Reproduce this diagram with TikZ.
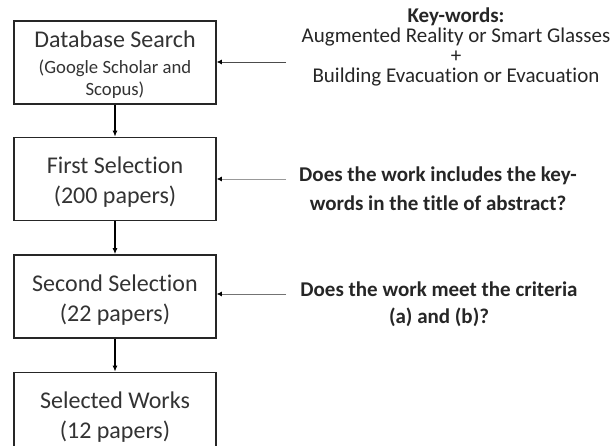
\documentclass[tikz,border=0pt]{standalone}
\usepackage{fontspec}
\setmainfont[Ligatures=NoCommon,RawFeature={-calt;-liga;-dlig}]{Carlito}
\usetikzlibrary{arrows.meta}
\newcommand\kwfont{\fontsize{21}{20}\selectfont\lineskiplimit=-30pt\relax}
\begin{document}
\begin{tikzpicture}[x=1pt,y=-1pt,
  box/.style={draw=black!85,line width=1.6pt,minimum width=202pt,minimum height=83pt,inner sep=0pt,align=center,text=black!80,font=\fontsize{24}{30}\selectfont},
  flow/.style={line width=1.2pt,-{Latex[length=6pt,width=5pt]}},
  side/.style={line width=0.8pt,draw=gray,-{Latex[length=5pt,width=5pt,color=black]}},
  note/.style={align=center,inner sep=0pt,text=black!85}]
\useasboundingbox (0,0) rectangle (615,446);
\clip (0,0) rectangle (615,446);
\fill[white] (0,0) rectangle (615,446);
\node[box,font=\fontsize{18.7}{22}\selectfont] (b1) at (115,62.5) {\rule{0pt}{21pt}\fontsize{24}{26}\selectfont Database Search\\[4pt](Google Scholar and\\Scopus)};
\node[box] (b2) at (115,179) {\rule{0pt}{23pt}First Selection\\(200 papers)};
\node[box] (b3) at (115,296.5) {\rule{0pt}{23pt}Second Selection\\(22 papers)};
\node[box] (b4) at (115,414) {\rule{0pt}{22pt}Selected Works\\(12 papers)};
\draw[flow] (b1) -- (b2);
\draw[flow] (b2) -- (b3);
\draw[flow] (b3) -- (b4);
\node[note,font=\kwfont] (k) at (456,46.5) {\textbf{Key-words:}\\Augmented Reality or Smart Glasses\\+\\Building Evacuation or Evacuation};
\node[note,font=\fontsize{21}{29}\selectfont\bfseries] (q1) at (438,188.5) {Does the work includes the key-\\words in the title of abstract?};
\node[note,font=\fontsize{21}{27}\selectfont\bfseries] (q2) at (439,304) {Does the work meet the criteria\\(a) and (b)?};
\coordinate (s1) at (286,62);
\coordinate (s2) at (286,179);
\coordinate (s3) at (286,294);
\draw[side,draw=black!70] (s1) -- (s1 -| b1.east);
\draw[side,draw=black!40] (s2) -- (s2 -| b2.east);
\draw[side,draw=black!55] (s3) -- (s3 -| b3.east);
\end{tikzpicture}
\end{document}
